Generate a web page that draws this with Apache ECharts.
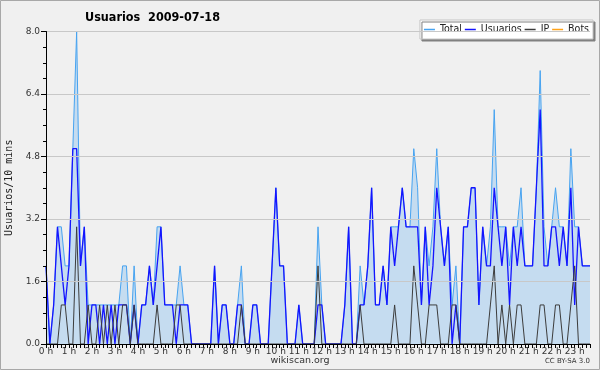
<!DOCTYPE html>
<html>
<head>
<meta charset="utf-8">
<script src="https://cdn.jsdelivr.net/npm/echarts@6/dist/echarts.min.js"></script>
<style>
html, body { margin: 0; padding: 0; background: #fff; }
#chart { width: 600px; height: 370px; }
</style>
</head>
<body>
<div id="chart"></div>
<script>
// one point every 10 minutes, 0:00 -> 23:40
var total = [2,0,1,3,3,2,2,5,8,2,3,
    1,1,1,1,1,1,1,1,1,2,2,0,2,
    0,1,1,2,1,3,3,1,1,1,1,2,1,1,0,
    0,0,0,0,0,
    2,0,1,1,0,0,1,2,0,0,1,1,0,0,0,
    2,4,2,2,0,0,0,1,0,0,0,0,
    3,1,0,0,0,0,0,1,3,0,0,
    2,1,2,4,1,1,2,1,3,3,3,4,3,3,
    5,4,1,3,2,3,5,3,2,3,1,2,0,
    3,3,4,4,1,3,2,3,6,
    3,3,3,2,3,3,4,2,2,2,4,7,3,
    2,3,4,3,3,2,5,3,3,2,2,2];
var usuarios = [2,0,1,3,2,1,2,5,5,2,3,
    0,1,1,0,1,0,1,0,1,1,1,0,1,
    0,1,1,2,1,2,3,1,1,1,0,1,1,1,0,
    0,0,0,0,0,
    2,0,1,1,0,0,1,1,0,0,1,1,0,0,0,
    2,4,2,2,0,0,0,1,0,0,0,0,
    1,1,0,0,0,0,0,1,3,0,0,
    1,1,2,4,1,1,2,1,3,2,3,4,3,3,
    3,3,1,3,1,2,4,3,2,3,0,1,0,
    3,3,4,4,1,3,2,2,4,
    3,2,3,1,3,2,3,2,2,2,4,6,2,
    2,3,3,2,3,2,4,1,3,2,2,2];
var ip = [0,0,0,0,1,1,0,0,3,0,0,
    1,0,0,1,0,1,0,1,0,1,1,0,1,
    0,0,0,0,0,1,0,0,0,0,1,1,0,0,0,
    0,0,0,0,0,
    0,0,0,0,0,0,0,1,0,0,0,0,0,0,0,
    0,0,0,0,0,0,0,0,0,0,0,0,
    2,0,0,0,0,0,0,0,0,0,0,
    1,0,0,0,0,0,0,0,0,1,0,0,0,0,
    2,1,0,0,1,1,1,0,0,0,1,1,0,
    0,0,0,0,0,0,0,1,2,
    0,1,0,1,0,1,1,0,0,0,0,1,1,
    0,0,1,1,0,0,1,2,0,0,0,0];
var bots = [0,0,0,0,0,0,0,0,0,0,0,
    0,0,0,0,0,0,0,0,0,0,0,0,0,
    0,0,0,0,0,0,0,0,0,0,0,0,0,0,0,
    0,0,0,0,0,
    0,0,0,0,0,0,0,0,0,0,0,0,0,0,0,
    0,0,0,0,0,0,0,0,0,0,0,0,
    0,0,0,0,0,0,0,0,0,0,0,
    0,0,0,0,0,0,0,0,0,0,0,0,0,0,
    0,0,0,0,0,0,0,0,0,0,0,0,0,
    0,0,0,0,0,0,0,0,0,
    0,0,0,0,0,0,0,0,0,0,0,0,0,
    0,0,0,0,0,0,0,0,0,0,0,0];
var seriesNames = ['Total', 'Usuarios', 'IP', 'Bots'];
var titleText = 'Usuarios  2009-07-18';

function pts(arr) {
    return arr.map(function (v, i) { return [i, v]; });
}

var chart = echarts.init(document.getElementById('chart'));
var font = 'DejaVu Sans';
var condensed = "'DejaVu Sans Condensed', 'DejaVu Sans'";

var option = {
    animation: false,
    backgroundColor: '#f0f0f0',
    title: {
        text: titleText,
        left: 80, top: 6,
        textStyle: { fontSize: 12.5, fontWeight: 'bold', fontFamily: condensed, color: '#000' }
    },
    legend: {
        data: seriesNames,
        right: 7, top: 20,
        icon: 'rect',
        itemWidth: 11, itemHeight: 1.5, itemGap: 3,
        padding: [4, 4, 4, 4],
        backgroundColor: '#fff',
        borderColor: '#c4c4c4', borderWidth: 1,
        shadowColor: '#808080', shadowOffsetX: 2, shadowOffsetY: 2, shadowBlur: 0,
        textStyle: { fontSize: 10.5, fontFamily: condensed, color: '#222' }
    },
    grid: { left: 46, right: 10, top: 31.5, bottom: 26, outerBoundsMode: 'none' },
    xAxis: {
        type: 'value', min: 0, max: 142, interval: 6,
        z: 5,
        axisLine: { lineStyle: { color: '#000', width: 1 } },
        axisTick: { length: 4, lineStyle: { color: '#000' } },
        minorTick: { show: true, splitNumber: 6, length: 4, lineStyle: { color: '#000' } },
        axisLabel: {
            formatter: function (v) { return v % 6 === 0 ? (v / 6) + ' h' : ''; },
            fontSize: 9, fontFamily: font, color: '#333', margin: 3
        },
        splitLine: { show: false }
    },
    yAxis: {
        type: 'value', min: 0, max: 8, interval: 1.6,
        z: 5,
        name: 'Usuarios/10 mins',
        nameLocation: 'middle', nameGap: 30, nameRotate: 90,
        nameTextStyle: { fontFamily: 'DejaVu Sans Mono', fontSize: 10, color: '#222' },
        axisLine: { show: true, lineStyle: { color: '#000', width: 1 } },
        axisTick: { show: true, length: 5, lineStyle: { color: '#000' } },
        minorTick: { show: true, splitNumber: 4, length: 3, lineStyle: { color: '#000' } },
        axisLabel: {
            formatter: function (v) { return v.toFixed(1); },
            fontSize: 9, fontFamily: font, color: '#333', margin: 6
        },
        splitLine: { show: true, lineStyle: { color: '#c8c8c8', width: 1 } }
    },
    series: [
        {
            name: 'Total', type: 'line', data: pts(total), symbol: 'none', z: 2,
            color: '#47a3f0',
            lineStyle: { width: 1, color: '#47a3f0' },
            areaStyle: { color: '#c5dcf0', opacity: 1 }
        },
        {
            name: 'Usuarios', type: 'line', data: pts(usuarios), symbol: 'none', z: 3,
            color: '#1414ff',
            lineStyle: { width: 1.3, color: '#1414ff' }
        },
        {
            name: 'IP', type: 'line', data: pts(ip), symbol: 'none', z: 4,
            color: '#3c3c3c',
            lineStyle: { width: 1, color: '#3c3c3c' }
        },
        {
            name: 'Bots', type: 'line', data: pts(bots), symbol: 'none', z: 1,
            color: '#ffa31a',
            lineStyle: { width: 1, color: '#ffa31a' }
        }
    ],
    graphic: [
        {
            type: 'rect', silent: true,
            shape: { x: 0.5, y: 0.5, width: 599, height: 369 },
            style: { fill: null, stroke: '#a8a8a8', lineWidth: 1 }
        },
        {
            type: 'text', left: 'center', top: 356,
            style: { text: 'wikiscan.org', fontSize: 9.5, fontFamily: font, fill: '#333' }
        },
        {
            type: 'text', right: 10, top: 358,
            style: { text: 'CC BY-SA 3.0', fontSize: 7, fontFamily: font, fill: '#333' }
        }
    ]
};
chart.setOption(option);
</script>
</body>
</html>
